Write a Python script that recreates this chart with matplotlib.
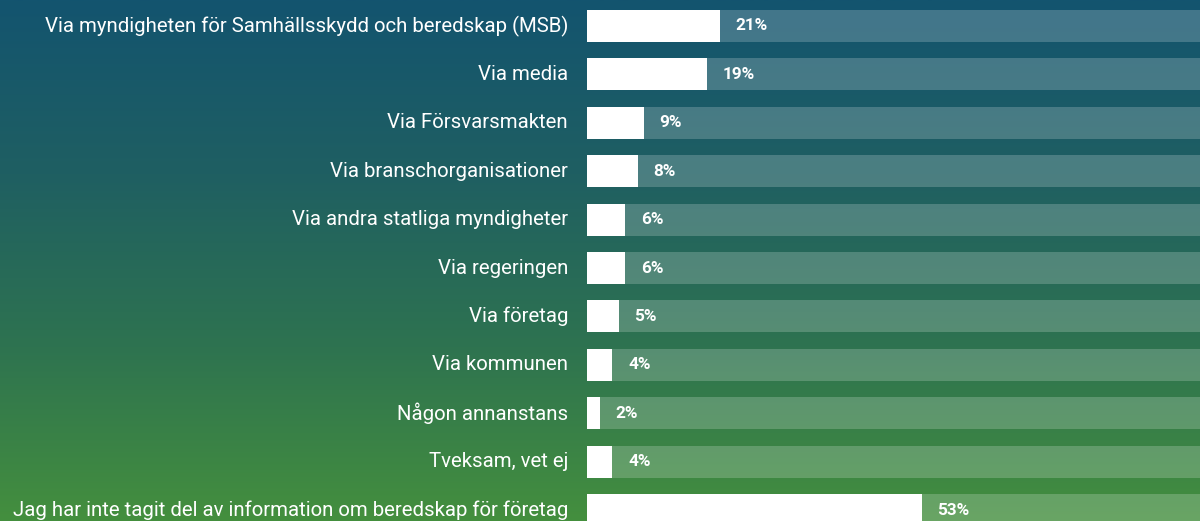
import matplotlib.pyplot as plt
from matplotlib.colors import LinearSegmentedColormap
import numpy as np

categories = [
    "Via myndigheten för Samhällsskydd och beredskap (MSB)",
    "Via media",
    "Via Försvarsmakten",
    "Via branschorganisationer",
    "Via andra statliga myndigheter",
    "Via regeringen",
    "Via företag",
    "Via kommunen",
    "Någon annanstans",
    "Tveksam, vet ej",
    "Jag har inte tagit del av information om beredskap för företag",
]
values = [21, 19, 9, 8, 6, 6, 5, 4, 2, 4, 53]

plt.rcParams['font.family'] = ['Roboto', 'DejaVu Sans']

fig = plt.figure(figsize=(12, 5.21), dpi=100)

# gradient background, teal at top to green at bottom
bg = fig.add_axes([0, 0, 1, 1], zorder=0)
cmap = LinearSegmentedColormap.from_list("bg", ["#13546f", "#1f5f62", "#2e7350", "#448f3e"])
bg.imshow(np.linspace(0, 1, 256).reshape(-1, 1), aspect='auto', cmap=cmap, extent=[0, 1, 0, 1],
          origin='upper')
bg.axis('off')

ax = fig.add_axes([587 / 1200, 0, 613 / 1200, 1], zorder=1)
ax.patch.set_alpha(0)
y = np.arange(len(categories))
h = 0.66
ax.barh(y, [100] * len(values), height=h, color='white', alpha=0.2, linewidth=0)
ax.barh(y, values, height=h, color='white', linewidth=0)

for yi, v, cat in zip(y, values, categories):
    ax.text(v + 2.5, yi, f"{v}%", va='center', ha='left', color='white',
            fontsize=12.3, fontweight='bold')
    ax.text(-3.0, yi, cat, va='center', ha='right', color='white', fontsize=14.7)

ax.set_xlim(0, 97.1)
ax.set_ylim(10.227, -0.537)
ax.axis('off')

fig.savefig("out.png", dpi=100)
